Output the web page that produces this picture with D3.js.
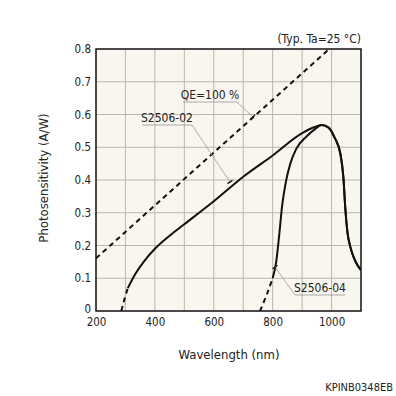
<!DOCTYPE html>
<html><head><meta charset="utf-8">
<script src="https://cdn.jsdelivr.net/npm/d3@7"></script>
<style>body{margin:0;background:#fff}svg{display:block}text{font-family:"DejaVu Sans Condensed","DejaVu Sans",Verdana,sans-serif;fill:#222}</style>
</head><body><svg id="c" width="396" height="396"></svg>
<script>
const xTicks = [200, 400, 600, 800, 1000];
const yTicks = [0, 0.1, 0.2, 0.3, 0.4, 0.5, 0.6, 0.7, 0.8];
const qeLine = [[200, 0.161], [992, 0.8]];
const s02Dashed = [[286, 0], [297, 0.037], [308, 0.07]];
const s02Solid = [[308, 0.07], [330, 0.108], [360, 0.148], [400, 0.19], [450, 0.23], [500, 0.265], [600, 0.335], [700, 0.41], [800, 0.475], [900, 0.543], [940, 0.561], [966, 0.568], [990, 0.56], [1010, 0.53], [1030, 0.48], [1040, 0.41], [1047, 0.31], [1054, 0.24], [1064, 0.195], [1076, 0.162], [1090, 0.137], [1100, 0.125]];
const s04Dashed = [[757, 0], [779, 0.048], [800, 0.1]];
const s04Solid = [[800, 0.1], [812, 0.15], [822, 0.23], [832, 0.32], [845, 0.395], [860, 0.45], [880, 0.495], [915, 0.533], [945, 0.556], [966, 0.568], [990, 0.56], [1010, 0.53], [1030, 0.48], [1040, 0.41], [1047, 0.31], [1054, 0.24], [1064, 0.195], [1076, 0.162], [1090, 0.137], [1100, 0.125]];

const FONT = '"DejaVu Sans Condensed","DejaVu Sans",Verdana,sans-serif';
const svg = d3.select("#c");
const L = 96, R = 361, T = 49, B = 311;
const x = d3.scaleLinear().domain([200, 1100]).range([L, R]);
const y = d3.scaleLinear().domain([0, 0.8]).range([B, T]);

svg.append("rect").attr("x", L).attr("y", T).attr("width", R - L).attr("height", B - T).attr("fill", "#f8f6ee");
const g = svg.append("g");
d3.range(300, 1100, 100).forEach(v => g.append("line").attr("x1", x(v)).attr("x2", x(v)).attr("y1", T).attr("y2", B).attr("stroke", "#b8b6ae").attr("stroke-width", 1));
d3.range(1, 8).forEach(i => { const v = i / 10; g.append("line").attr("x1", L).attr("x2", R).attr("y1", y(v)).attr("y2", y(v)).attr("stroke", "#b8b6ae").attr("stroke-width", 1); });

const xa = svg.append("g").attr("transform", `translate(0,${B})`).call(d3.axisBottom(x).tickValues(xTicks).tickSize(0).tickPadding(7).tickFormat(d3.format("d")));
const ya = svg.append("g").attr("transform", `translate(${L},0)`).call(d3.axisLeft(y).tickValues(yTicks).tickSize(0).tickPadding(5).tickFormat(d => d === 0 ? "0" : d3.format(".1f")(d)));
[xa, ya].forEach(a => { a.select(".domain").remove(); a.selectAll("text").style("font-family", FONT).style("font-size", "11.5px").attr("fill", "#222"); });
ya.selectAll(".tick").filter(d => d === 0).select("text").attr("dy", "0.1em");

const line = d3.line().x(d => x(d[0])).y(d => y(d[1])).curve(d3.curveMonotoneX);
svg.append("clipPath").attr("id", "cp").append("rect").attr("x", L).attr("y", T).attr("width", R - L).attr("height", B - T);
const pg = svg.append("g").attr("clip-path", "url(#cp)");
pg.append("path").attr("d", d3.line().x(d => x(d[0])).y(d => y(d[1]))(qeLine)).attr("fill", "none").attr("stroke", "#111").attr("stroke-width", 2).attr("stroke-dasharray", "5,4");
[s02Dashed, s04Dashed].forEach(s => pg.append("path").attr("d", line(s)).attr("fill", "none").attr("stroke", "#111").attr("stroke-width", 2).attr("stroke-dasharray", "5,4"));
[s02Solid, s04Solid].forEach(s => pg.append("path").attr("d", line(s)).attr("fill", "none").attr("stroke", "#111").attr("stroke-width", 2));

svg.append("rect").attr("x", L).attr("y", T).attr("width", R - L).attr("height", B - T).attr("fill", "none").attr("stroke", "#111").attr("stroke-width", 1.5);

function note(txt, tx, ty, ux1, ux2, uy, sx, px, py) {
  svg.append("text").attr("x", tx).attr("y", ty).attr("text-anchor", "middle").style("font-size", "12px").text(txt);
  svg.append("line").attr("x1", ux1).attr("x2", ux2).attr("y1", uy).attr("y2", uy).attr("stroke", "#999").attr("stroke-width", 0.8);
  svg.append("line").attr("x1", sx).attr("y1", uy).attr("x2", px).attr("y2", py).attr("stroke", "#999").attr("stroke-width", 0.8);
  const ang = Math.atan2(py - uy, px - sx);
  const nx = -Math.sin(ang) * 3, ny = Math.cos(ang) * 3;
  svg.append("line").attr("x1", px - nx).attr("y1", py - ny).attr("x2", px + nx).attr("y2", py + ny).attr("stroke", "#111").attr("stroke-width", 1.3);
}
note("QE=100 %", 210, 99, 183, 237, 102, 237, 253, 117);
note("S2506-02", 167, 122, 142, 192, 125, 192, 230, 182);
note("S2506-04", 320, 292, 295, 345, 295, 295, 275, 267);

svg.append("text").attr("x", 361).attr("y", 43).attr("text-anchor", "end").style("font-size", "12px").text("(Typ. Ta=25 °C)");
svg.append("text").attr("x", 229).attr("y", 359).attr("text-anchor", "middle").style("font-size", "13px").text("Wavelength (nm)");
svg.append("text").attr("transform", "translate(48,178) rotate(-90)").attr("text-anchor", "middle").style("font-size", "13px").text("Photosensitivity (A/W)");
svg.append("text").attr("x", 393).attr("y", 391).attr("text-anchor", "end").style("font-size", "11px").text("KPINB0348EB");
</script></body></html>
